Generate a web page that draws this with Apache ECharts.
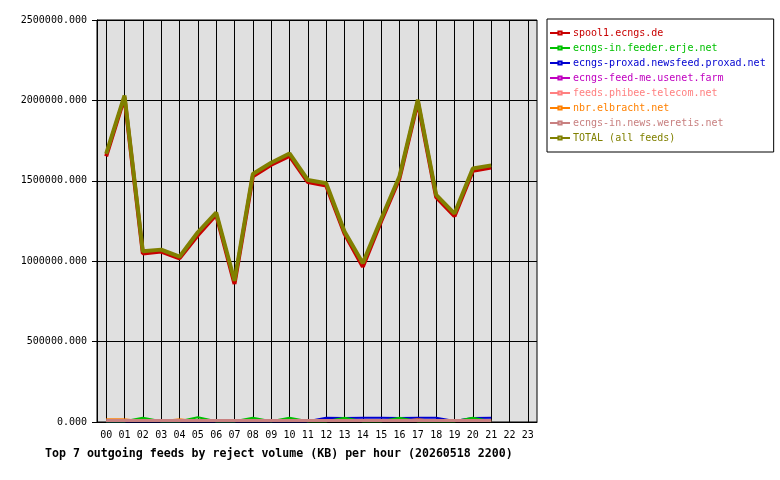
<!DOCTYPE html>
<html lang="en">
<head>
  <meta charset="UTF-8">
  <title>Top 7 outgoing feeds by reject volume</title>
  <style>
    html, body { margin: 0; padding: 0; background: #fff; }
    #chart { width: 780px; height: 480px; }
  </style>
  <script src="https://cdn.jsdelivr.net/npm/echarts@6/dist/echarts.min.js"></script>
</head>
<body>
<div id="chart"></div>
<script>
  // hours on the x axis
  var hours = ['00', '01', '02', '03', '04', '05', '06', '07', '08', '09', '10', '11',
               '12', '13', '14', '15', '16', '17', '18', '19', '20', '21', '22', '23'];

  // reject volume (KB) per feed
  var feedNames = ['spool1.ecngs.de', 'ecngs-in.feeder.erje.net', 'ecngs-proxad.newsfeed.proxad.net',
                   'ecngs-feed-me.usenet.farm', 'feeds.phibee-telecom.net', 'nbr.elbracht.net',
                   'ecngs-in.news.weretis.net', 'TOTAL (all feeds)'];
  var feedColors = ['#c80000', '#00c000', '#0000d0', '#c000c0', '#ff8080', '#ff8000', '#c88080', '#808000'];

  var spool1 = [1652000, 2018000, 1048000, 1060000, 1018000, 1162000, 1290000, 858000, 1528000, 1600000, 1655000,
                1492000, 1470000, 1172000, 966000, 1248000, 1515000, 1990000, 1398000, 1280000, 1562000, 1582000];
  var erje = [5000, 5000, 26000, 5000, 5000, 30000, 5000, 5000, 26000, 5000, 26000, 5000,
              5000, 26000, 5000, 5000, 26000, 5000, 5000, 5000, 26000, 5000];
  var proxad = [4000, 4000, 4000, 4000, 4000, 4000, 4000, 4000, 4000, 4000, 4000, 4000,
                26000, 25000, 26000, 26000, 25000, 26000, 26000, 6000, 25000, 26000];
  var usenetFarm = [4000, 4000, 4000, 4000, 4000, 4000, 4000, 4000, 4000, 4000, 4000, 4000,
                    4000, 4000, 4000, 4000, 4000, 4000, 4000, 4000, 4000, 4000];
  var phibee = [4000, 4000, 4000, 4000, 4000, 4000, 4000, 4000, 4000, 4000, 4000, 4000,
                4000, 4000, 4000, 4000, 4000, 4000, 4000, 4000, 4000, 4000];
  var elbracht = [20000, 20000, 8000, 8000, 20000, 8000, 8000, 8000, 8000, 8000, 8000, 8000,
                  8000, 8000, 8000, 8000, 8000, 20000, 8000, 8000, 8000, 8000];
  var weretis = [10000, 10000, 10000, 10000, 10000, 10000, 10000, 10000, 10000, 10000, 10000, 10000,
                 10000, 10000, 10000, 10000, 10000, 10000, 10000, 10000, 10000, 10000];
  var total = [1668000, 2030000, 1062000, 1072000, 1028000, 1180000, 1302000, 878000, 1542000, 1612000, 1670000,
               1505000, 1485000, 1185000, 988000, 1262000, 1528000, 2004000, 1412000, 1296000, 1576000, 1596000];

  var feedData = [spool1, erje, proxad, usenetFarm, phibee, elbracht, weretis, total];
  var lineWidths = [4, 2, 2, 1, 1, 1, 3, 4];
  // drawing order: proxad goes under erje, as in the picture; legend keeps feedNames order
  var drawOrder = [0, 2, 1, 3, 4, 5, 6, 7];

  var mono = 'DejaVu Sans Mono';

  var myChart = echarts.init(document.getElementById('chart'));

  var series = drawOrder.map(function (i) {
    return {
      name: feedNames[i],
      type: 'line',
      data: feedData[i],
      symbol: 'emptyRect',
      symbolSize: 3,
      showSymbol: false,
      clip: false,
      lineStyle: { color: feedColors[i], width: lineWidths[i] },
      itemStyle: { color: feedColors[i] }
    };
  });

  var option = {
    animation: false,
    title: {
      text: 'Top 7 outgoing feeds by reject volume (KB) per hour (20260518 2200)',
      left: 40,
      top: 443,
      textStyle: { fontFamily: mono, fontWeight: 'bold', fontSize: 11.6, color: '#000' }
    },
    legend: {
      orient: 'vertical',
      left: 547,
      top: 19,
      padding: [9, 8, 9, 2],
      itemWidth: 20,
      itemHeight: 4,
      itemGap: 5,
      backgroundColor: '#fff',
      borderColor: '#000',
      borderWidth: 1,
      borderRadius: 0,
      selectedMode: false,
      data: feedNames.map(function (name, i) {
        return { name: name, textStyle: { color: feedColors[i] } };
      }),
      textStyle: { fontFamily: mono, fontSize: 10, padding: [0, 0, 0, -2] }
    },
    grid: {
      left: 97,
      right: 243,
      top: 20,
      bottom: 58,
      show: true,
      backgroundColor: '#e0e0e0',
      borderColor: '#000',
      borderWidth: 1
    },
    xAxis: {
      type: 'category',
      data: hours,
      boundaryGap: true,
      axisLine: { lineStyle: { color: '#000', width: 1 } },
      axisTick: { alignWithLabel: true, length: 5, lineStyle: { color: '#000' } },
      axisLabel: { color: '#000', fontFamily: mono, fontSize: 10, margin: 8, interval: 0 },
      splitLine: { show: true, alignWithLabel: true, lineStyle: { color: '#000', width: 1 } }
    },
    yAxis: {
      type: 'value',
      min: 0,
      max: 2500000,
      interval: 500000,
      axisLine: { show: true, lineStyle: { color: '#000' } },
      axisTick: { show: true, length: 5, lineStyle: { color: '#000' } },
      axisLabel: {
        color: '#000', fontFamily: mono, fontSize: 10, margin: 10,
        formatter: function (v) { return v.toFixed(3); }
      },
      splitLine: { show: true, lineStyle: { color: '#000', width: 1 } }
    },
    series: series
  };

  myChart.setOption(option);
</script>
</body>
</html>
